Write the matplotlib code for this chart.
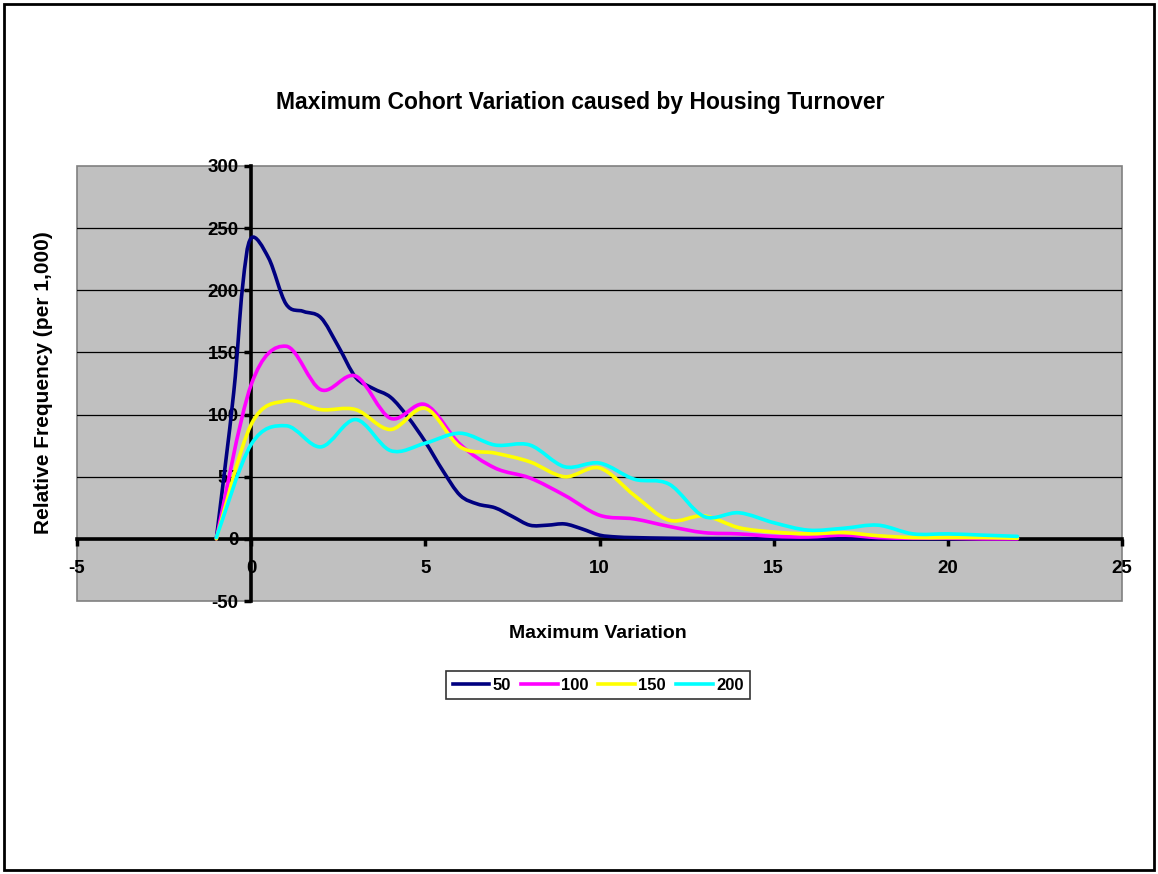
import numpy as np
import matplotlib
matplotlib.use("Agg")
import matplotlib.pyplot as plt
from matplotlib.path import Path
from matplotlib.patches import PathPatch, Rectangle
from matplotlib.lines import Line2D

plt.rcParams['font.family'] = ['Liberation Sans', 'DejaVu Sans']
plt.rcParams['font.weight'] = 'bold'

# Relative frequency (per 1,000) of the maximum cohort variation, by turnover level
x_50 = [-1, -0.5, -0.25, 0, 0.5, 1, 1.5, 2, 2.5, 3, 3.5, 4, 4.5, 5, 5.5, 6, 6.5, 7, 7.5,
        8, 8.5, 9, 9.5, 10, 10.5, 11, 12, 13, 14, 15, 16, 17, 18, 19, 20, 21, 22]
y_50 = [0, 118, 202, 242, 226, 189, 183, 178, 155, 130, 121, 114, 98, 78, 55, 35, 28, 25, 18,
        11, 11, 12, 8, 3, 1.5, 1, 0.5, 0.3, 0.2, 0.1, 0, 0, 0, 0, 0, 0, 0]

x_int = list(range(-1, 23))
y_100 = [0, 124, 155, 120, 131, 97, 108, 76, 57, 49, 35, 19, 16, 10, 5, 4, 2, 1.5,
         3, 1, 0.5, 0.5, 0, 0]
y_150 = [0, 92, 111, 104, 104, 88, 105, 74, 69, 62, 50, 57, 35, 15, 18.5, 9, 5.5, 4,
         5, 2.5, 1, 1, 1, 0.5]
y_200 = [1, 76, 91, 74, 96, 71, 77, 85, 75.5, 75.5, 58, 61, 48, 44, 18, 21, 13, 7,
         8.5, 11, 4, 4, 3, 2]

series = [("50", x_50, y_50, "#000080"),
          ("100", x_int, y_100, "#FF00FF"),
          ("150", x_int, y_150, "#FFFF00"),
          ("200", x_int, y_200, "#00FFFF")]

x_ticks = [-5, 0, 5, 10, 15, 20, 25]
y_ticks = [-50, 0, 50, 100, 150, 200, 250, 300]


def smooth_path(xs, ys):
    """Cubic Bezier path through the points (Catmull-Rom style smoothing)."""
    p = np.column_stack([xs, ys]).astype(float)
    n = len(p)
    verts = [p[0]]
    codes = [Path.MOVETO]
    for i in range(n - 1):
        p0 = p[i - 1] if i > 0 else p[i]
        p1, p2 = p[i], p[i + 1]
        p3 = p[i + 2] if i + 2 < n else p[i + 1]
        c1 = p1 + (p2 - p0) / 6.0
        c2 = p2 - (p3 - p1) / 6.0
        verts += [c1, c2, p2]
        codes += [Path.CURVE4] * 3
    return Path(verts, codes)


W, H = 1158, 874
fig = plt.figure(figsize=(W / 100, H / 100), dpi=100)
fig.patch.set_facecolor("white")

# outer chart border
fig.patches.append(Rectangle((4 / W, 4 / H), 1150 / W, 866 / H, transform=fig.transFigure,
                             fill=False, edgecolor="black", linewidth=2))

ax = fig.add_axes([77 / W, 1 - 601 / H, 1045 / W, 435 / H])
ax.set_facecolor("#C0C0C0")
ax.patch.set_edgecolor("#808080")
ax.patch.set_linewidth(1.2)
ax.set_xlim(-5, 25)
ax.set_ylim(-50, 300)

for name in ("top", "right"):
    ax.spines[name].set_visible(False)
ax.spines["left"].set_position(("data", 0))
ax.spines["bottom"].set_position(("data", 0))
for name in ("left", "bottom"):
    ax.spines[name].set_linewidth(2.6)
    ax.spines[name].set_color("black")
    ax.spines[name].set_zorder(2.6)

ax.set_xticks(x_ticks)
ax.set_yticks(y_ticks)
ax.set_xticklabels([str(v) for v in x_ticks])
ax.set_yticklabels([str(v) for v in y_ticks])
ax.tick_params(axis="both", direction="out", length=5, width=2.5, color="black",
               labelsize=13.5)
ax.tick_params(axis="y", pad=4)
ax.tick_params(axis="x", pad=10)
for lab in ax.get_xticklabels() + ax.get_yticklabels():
    lab.set_fontweight("bold")

ax.yaxis.grid(True, color="black", linewidth=0.9)
ax.set_axisbelow(True)
glines = ax.yaxis.get_gridlines()
glines[0].set_visible(False)
glines[-1].set_visible(False)

handles = []
for label, xs, ys, color in series:
    patch = PathPatch(smooth_path(xs, ys), fill=False, edgecolor=color, linewidth=2.6,
                      zorder=3, capstyle="round", joinstyle="round")
    ax.add_patch(patch)
    handles.append(Line2D([], [], color=color, linewidth=2.6, label=label))

fig.text(580 / W, 1 - 102 / H, "Maximum Cohort Variation caused by Housing Turnover",
         ha="center", va="center", fontsize=16.5, fontweight="bold")
fig.text(598 / W, 1 - 634 / H, "Maximum Variation", ha="center", va="center",
         fontsize=14, fontweight="bold")
fig.text(44 / W, 1 - 383 / H, "Relative Frequency (per 1,000)", ha="center", va="center",
         rotation=90, fontsize=15, fontweight="bold")

leg = fig.legend(handles=handles, loc="center", bbox_to_anchor=(598 / W, 1 - 685 / H),
                 ncol=4, frameon=True, fancybox=False, fontsize=12,
                 handlelength=2.2, handletextpad=0.2, columnspacing=0.6,
                 borderpad=0.4, borderaxespad=0)
leg.get_frame().set_edgecolor("black")
leg.get_frame().set_linewidth(1.2)
for t in leg.get_texts():
    t.set_fontweight("bold")

fig.savefig("out.png", dpi=100)
